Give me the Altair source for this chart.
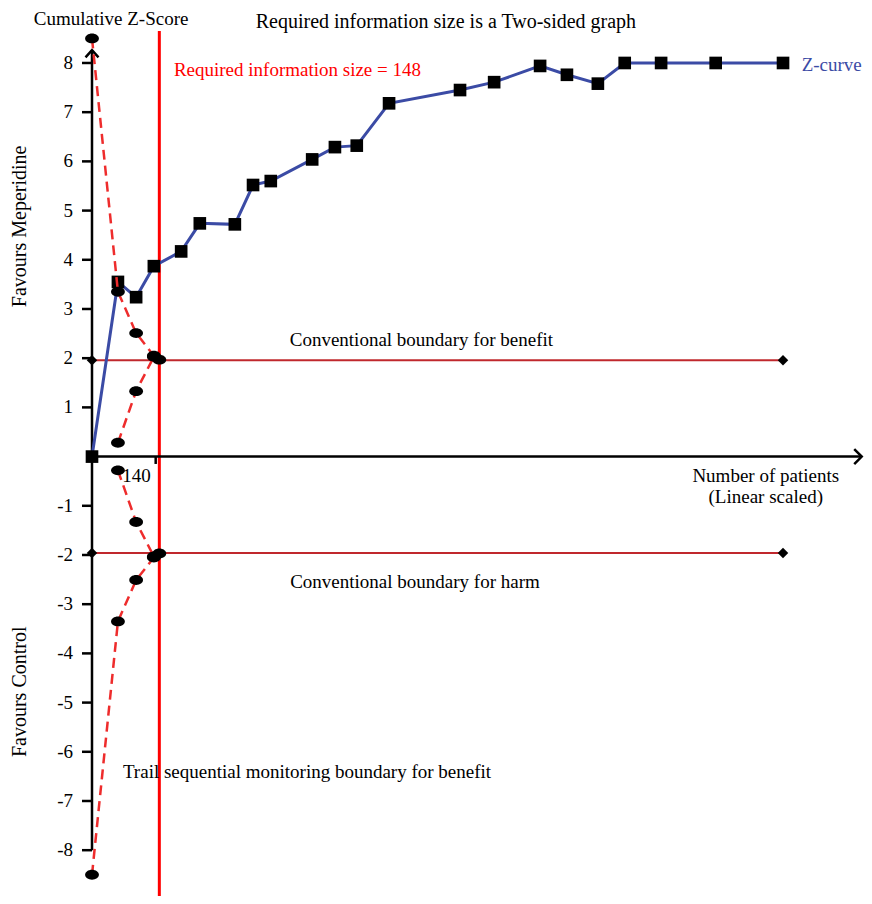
import altair as alt
import pandas as pd

# ---------------- data ----------------
zcurve_patients = [0, 57, 97, 136, 196, 237, 314, 354, 393, 484, 534, 582, 653,
                   809, 884, 985, 1044, 1112, 1171, 1251, 1371, 1519]
zcurve_z = [0.0, 3.55, 3.24, 3.87, 4.17, 4.74, 4.72, 5.52, 5.60, 6.04, 6.29, 6.32,
            7.18, 7.45, 7.61, 7.94, 7.76, 7.58, 8.0, 8.0, 8.0, 8.0]

tsmb_outer_patients = [0, 57, 97, 136, 148]
tsmb_outer_z = [8.5, 3.35, 2.51, 2.05, 1.97]
tsmb_inner_patients = [57, 97, 136]
tsmb_inner_z = [0.28, 1.33, 2.03]

conventional_z = 1.96
conventional_end = 1519
required_info_size = 148
x_tick_values = [140]
y_tick_values = [-8, -7, -6, -5, -4, -3, -2, -1, 1, 2, 3, 4, 5, 6, 7, 8]
y_axis_top = 8.26
y_axis_bottom = -8
x_axis_end = 1692

X_DOMAIN = [0, 1697]
Y_DOMAIN = [-8.931, 8.65]
FONT = "Liberation Serif"
FS = 19
BLUE = "#3b4ba5"
RED = "#ff0000"
DASH_RED = "#ee2c2c"
DARK_RED = "#c0282d"

xs = alt.Scale(domain=X_DOMAIN, nice=False, zero=False)
ys = alt.Scale(domain=Y_DOMAIN, nice=False, zero=False)


def X(f="n"):
    return alt.X(f"{f}:Q", scale=xs, axis=None)


def Y(f="z"):
    return alt.Y(f"{f}:Q", scale=ys, axis=None)


# ---------------- tables ----------------
zc = pd.DataFrame({"n": zcurve_patients, "z": zcurve_z})

rows = []
for sign, side in [(1, "upper"), (-1, "lower")]:
    for i, (n, z) in enumerate(zip(tsmb_outer_patients, tsmb_outer_z)):
        rows.append({"g": side + "_outer", "o": i, "n": n, "z": sign * z})
    for i, (n, z) in enumerate(zip(tsmb_inner_patients, tsmb_inner_z)):
        rows.append({"g": side + "_inner", "o": i, "n": n, "z": sign * z})
tsmb = pd.DataFrame(rows)

conv = pd.DataFrame({"n": [0, 0], "n2": [conventional_end] * 2,
                     "z": [conventional_z, -conventional_z]})
conv_pts = pd.DataFrame({"n": [0, conventional_end, 0, conventional_end],
                         "z": [conventional_z, conventional_z, -conventional_z, -conventional_z]})
ris = pd.DataFrame({"n": [required_info_size]})

yaxis = pd.DataFrame({"n": [0], "z": [y_axis_bottom], "z2": [y_axis_top]})
xaxis = pd.DataFrame({"n": [0], "n2": [x_axis_end], "z": [0]})
yticks = pd.DataFrame({"n": [-22] * len(y_tick_values), "n2": [0] * len(y_tick_values),
                       "z": y_tick_values, "t": [str(v) for v in y_tick_values]})
xticks = pd.DataFrame({"n": x_tick_values, "z": [0] * len(x_tick_values),
                       "z2": [-0.15] * len(x_tick_values)})
xtick_labels = pd.DataFrame({"n": [98], "z": [-0.39], "t": ["140"]})
arrow_up = pd.DataFrame({"n": [0], "z": [y_axis_top]})
arrow_right = pd.DataFrame({"n": [x_axis_end], "z": [0]})

texts_center = pd.DataFrame({
    "n": [42, 724, 710, 1481, 1481],
    "z": [8.89, 2.36, -2.55, -0.39, -0.83],
    "t": ["Cumulative Z-Score",
          "Conventional boundary for benefit", "Conventional boundary for harm",
          "Number of patients", "(Linear scaled)"],
})
text_title = pd.DataFrame({"n": [778], "z": [8.83],
                           "t": ["Required information size is a Two-sided graph"]})
texts_left = pd.DataFrame({"n": [68], "z": [-6.42],
                           "t": ["Trail sequential monitoring boundary for benefit"]})
text_ris = pd.DataFrame({"n": [180], "z": [7.86], "t": ["Required information size = 148"]})
text_zc = pd.DataFrame({"n": [1560], "z": [7.96], "t": ["Z-curve"]})
texts_rot = pd.DataFrame({"n": [-158, -158], "z": [4.68, -4.78],
                          "t": ["Favours Meperidine", "Favours Control"]})

ELLIPSE = ("M-1,0C-1,-0.4,-0.55,-0.72,0,-0.72C0.55,-0.72,1,-0.4,1,0"
           "C1,0.4,0.55,0.72,0,0.72C-0.55,0.72,-1,0.4,-1,0Z")
CHEVRON_UP = "M-1,1.1L0,0L1,1.1"
CHEVRON_RIGHT = "M-1,-1L0,0L-1,1"

# ---------------- layers ----------------
conv_lines = alt.Chart(conv).mark_rule(color=DARK_RED, strokeWidth=2).encode(
    x=X(), x2="n2:Q", y=Y())
conv_marks = alt.Chart(conv_pts).mark_point(shape="diamond", filled=True, color="black",
                                            size=110, opacity=1).encode(x=X(), y=Y())
ris_line = alt.Chart(ris).mark_rule(color=RED, strokeWidth=3).encode(x=X())

yaxis_line = alt.Chart(yaxis).mark_rule(color="black", strokeWidth=2.5).encode(
    x=X(), y=Y(), y2="z2:Q")
xaxis_line = alt.Chart(xaxis).mark_rule(color="black", strokeWidth=2.5).encode(
    x=X(), x2="n2:Q", y=Y())
ytick_marks = alt.Chart(yticks).mark_rule(color="black", strokeWidth=2.5).encode(
    x=X(), x2="n2:Q", y=Y())
ytick_text = alt.Chart(yticks).mark_text(align="right", baseline="middle", dx=-19,
                                         font=FONT, fontSize=FS, color="black").encode(
    x=alt.X("n2:Q", scale=xs, axis=None), y=Y(), text="t:N")
xtick_marks = alt.Chart(xticks).mark_rule(color="black", strokeWidth=2.5).encode(
    x=X(), y=Y(), y2="z2:Q")
xtick_text = alt.Chart(xtick_labels).mark_text(align="center", baseline="middle",
                                               font=FONT, fontSize=FS, color="black").encode(
    x=X(), y=Y(), text="t:N")
up_arrow = alt.Chart(arrow_up).mark_point(shape=CHEVRON_UP, filled=False, color="black",
                                          strokeWidth=2.5, size=169, opacity=1).encode(x=X(), y=Y())
right_arrow = alt.Chart(arrow_right).mark_point(shape=CHEVRON_RIGHT, filled=False, color="black",
                                                strokeWidth=2.5, size=225, opacity=1).encode(x=X(), y=Y())

zc_line = alt.Chart(zc).mark_line(color=BLUE, strokeWidth=3).encode(x=X(), y=Y())
zc_pts = alt.Chart(zc).mark_point(shape="square", filled=True, color="black", size=160,
                                  opacity=1).encode(x=X(), y=Y())

tsmb_line = alt.Chart(tsmb).mark_line(color=DASH_RED, strokeWidth=2.5,
                                      strokeDash=[10, 6]).encode(
    x=X(), y=Y(), detail="g:N", order="o:Q")
tsmb_pts = alt.Chart(tsmb).mark_point(shape=ELLIPSE, filled=True, color="black", size=190,
                                      opacity=1).encode(x=X(), y=Y())

t_center = alt.Chart(texts_center).mark_text(align="center", baseline="middle", font=FONT,
                                             fontSize=FS, color="black").encode(
    x=X(), y=Y(), text="t:N")
t_title = alt.Chart(text_title).mark_text(align="center", baseline="middle", font=FONT,
                                          fontSize=20, color="black").encode(
    x=X(), y=Y(), text="t:N")
t_left = alt.Chart(texts_left).mark_text(align="left", baseline="middle", font=FONT,
                                         fontSize=FS, color="black").encode(
    x=X(), y=Y(), text="t:N")
t_ris = alt.Chart(text_ris).mark_text(align="left", baseline="middle", font=FONT,
                                      fontSize=FS, color=RED).encode(x=X(), y=Y(), text="t:N")
t_zc = alt.Chart(text_zc).mark_text(align="left", baseline="middle", font=FONT,
                                    fontSize=FS, color=BLUE).encode(x=X(), y=Y(), text="t:N")
t_rot = alt.Chart(texts_rot).mark_text(align="center", baseline="middle", font=FONT,
                                       fontSize=20, color="black", angle=270).encode(
    x=X(), y=Y(), text="t:N")

chart = alt.layer(
    conv_lines, ris_line, yaxis_line, xaxis_line, ytick_marks, ytick_text,
    xtick_marks, xtick_text, up_arrow, right_arrow,
    zc_line, zc_pts, tsmb_line, tsmb_pts, conv_marks,
    t_center, t_title, t_left, t_ris, t_zc, t_rot,
).properties(
    width=772, height=865,
    autosize=alt.AutoSizeParams(type="none"),
    padding={"left": 84, "top": 23, "right": 0, "bottom": 0},
    background="white",
).configure_view(stroke=None)

chart.save("out.html", embed_options={"renderer": "svg", "actions": False})
